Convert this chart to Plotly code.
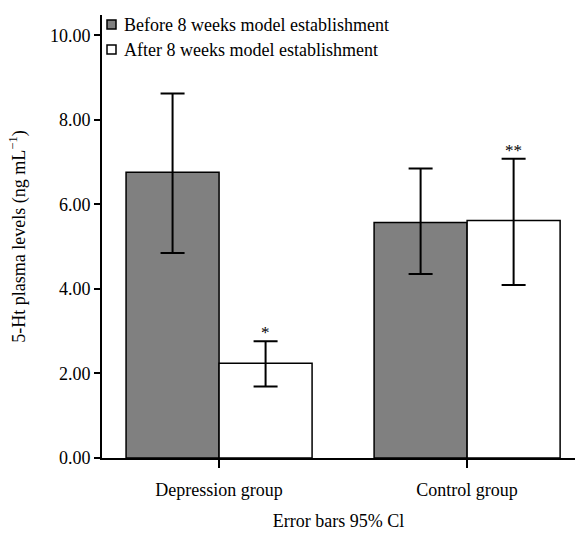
import plotly.graph_objects as go

categories = ["Depression group", "Control group"]
before_mean = [6.76, 5.57]
before_lo = [4.85, 4.35]
before_hi = [8.62, 6.85]
after_mean = [2.24, 5.62]
after_lo = [1.69, 4.09]
after_hi = [2.76, 7.08]
after_marks = ["*", "**"]
series_names = ["Before 8 weeks model establishment", "After 8 weeks model establishment"]
series_colors = ["#808080", "white"]

font_family = "Liberation Serif, Times New Roman, serif"

def err(mean, lo, hi):
    return dict(type="data", symmetric=False,
                array=[h - m for h, m in zip(hi, mean)],
                arrayminus=[m - l for m, l in zip(mean, lo)],
                color="black", thickness=2, width=12)

fig = go.Figure()
fig.add_trace(go.Bar(name=series_names[0], x=categories, y=before_mean,
                     marker=dict(color=series_colors[0], line=dict(color="black", width=1.5)),
                     error_y=err(before_mean, before_lo, before_hi)))
fig.add_trace(go.Bar(name=series_names[1], x=categories, y=after_mean,
                     marker=dict(color=series_colors[1], line=dict(color="black", width=1.5)),
                     error_y=err(after_mean, after_lo, after_hi)))

bargap = 0.25
x_range = [-0.472, 1.435]
plot_w = 575 - 102
px_per_unit = plot_w / (x_range[1] - x_range[0])
shift = (1 - bargap) / 4 * px_per_unit
for cat, hi, mark in zip(categories, after_hi, after_marks):
    fig.add_annotation(x=cat, y=hi, text=mark, showarrow=False, xshift=shift,
                       yanchor="bottom", yshift=-3, font=dict(size=17, color="black", family=font_family))

# manual legend (small squares close to the text, as in the reference)
for i, (name, col) in enumerate(zip(series_names, series_colors)):
    top = -5 - 25 * i
    fig.add_shape(type="rect", xref="paper", yref="paper", xsizemode="pixel", ysizemode="pixel",
                  xanchor=0, yanchor=1, x0=5, x1=14, y0=top, y1=top - 9,
                  fillcolor=col, line=dict(color="black", width=1.5))
    fig.add_annotation(xref="paper", yref="paper", x=0, y=1, xshift=20, yshift=top - 5,
                       xanchor="left", yanchor="middle", showarrow=False, text=name,
                       font=dict(size=18, color="black", family=font_family))

fig.update_layout(
    width=575, height=538,
    margin=dict(l=102, r=0, t=15, b=80),
    paper_bgcolor="white", plot_bgcolor="white",
    barmode="group", bargap=bargap, bargroupgap=0,
    font=dict(family=font_family, size=18, color="black"),
    showlegend=False,
    xaxis=dict(range=x_range, showline=True, linecolor="black", linewidth=2,
               ticks="outside", ticklen=8, tickwidth=1.5, tickcolor="black",
               ticklabelstandoff=6,
               showgrid=False, zeroline=False,
               title=dict(text="Error bars 95% Cl", standoff=16, font=dict(size=18))),
    yaxis=dict(range=[0, 10.48], tickvals=[0, 2, 4, 6, 8, 10], tickformat=".2f",
               showline=True, linecolor="black", linewidth=2,
               ticks="outside", ticklen=6, tickwidth=1.5, tickcolor="black",
               showgrid=False, zeroline=False,
               title=dict(text="5-Ht plasma levels (ng mL<sup>\u22121</sup>)", standoff=20, font=dict(size=18))),
)

fig.write_html("out.html")
